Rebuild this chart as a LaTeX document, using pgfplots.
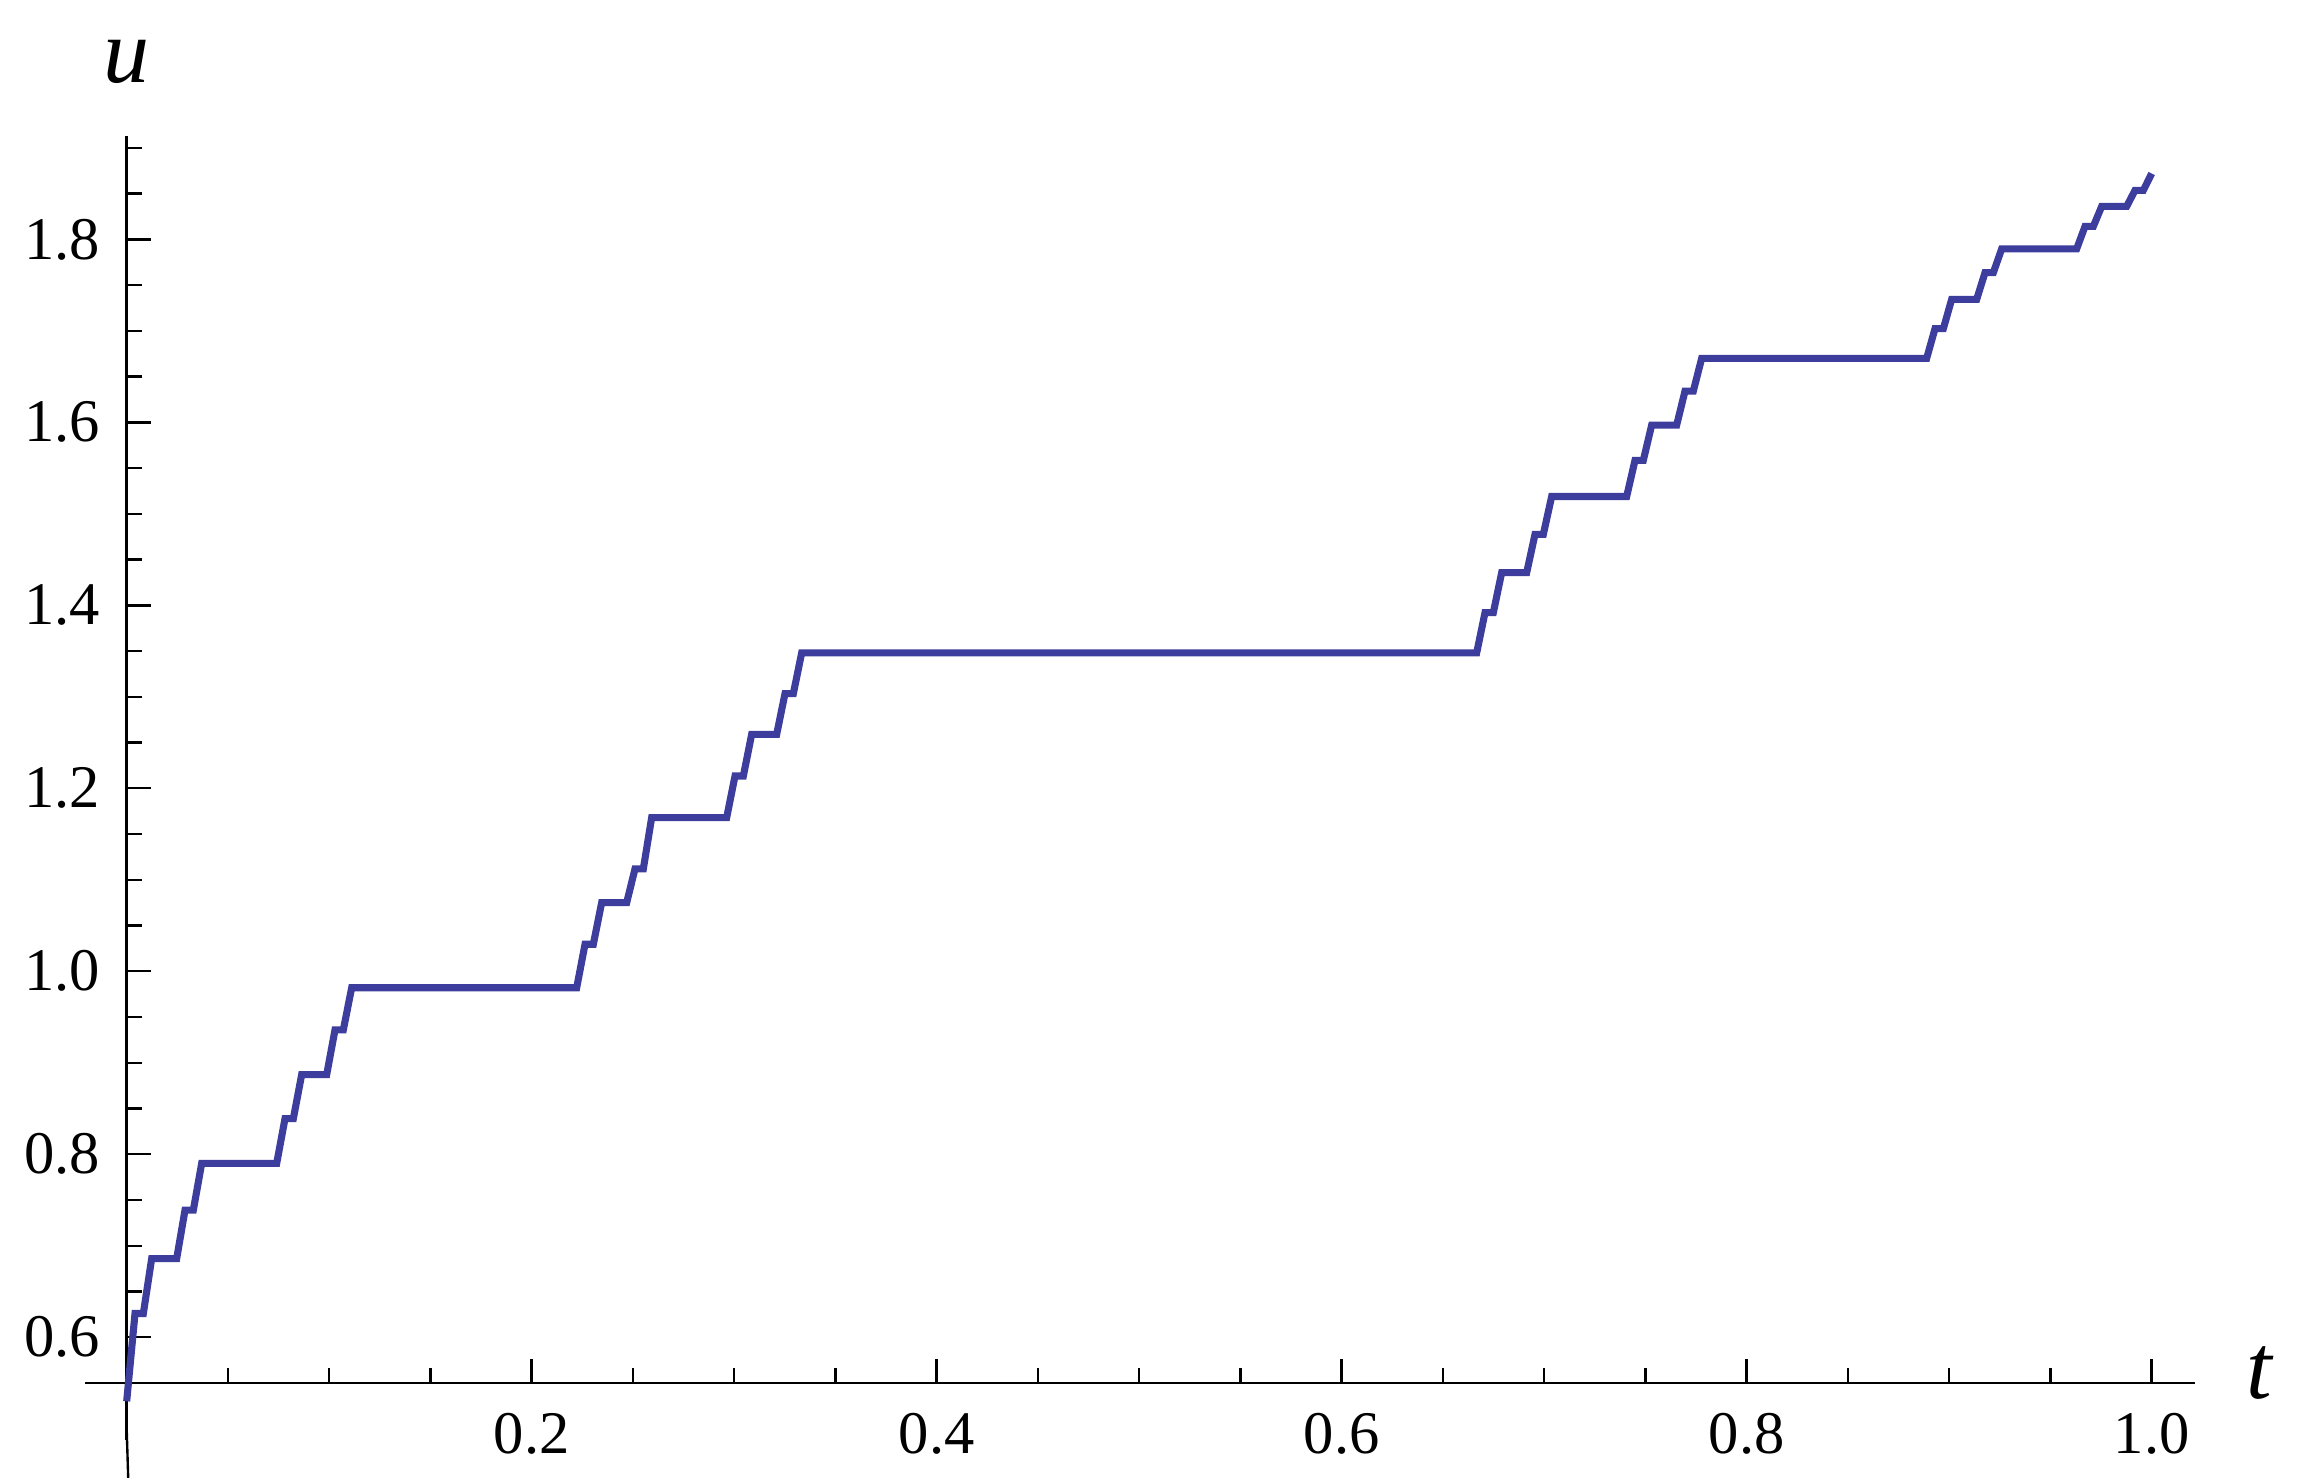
\documentclass[border=0pt]{standalone}
\usepackage{fontspec}
\setmainfont{Liberation Serif}
\usepackage{pgfplots}
\pgfplotsset{compat=1.18}
\definecolor{curve}{HTML}{3D3D9E}

\begin{document}
\fontsize{11.5}{13}\selectfont
\begin{tikzpicture}
\useasboundingbox (0,0) rectangle (436.81pt,280.82pt);
\begin{axis}[at={(24.07pt,18.05pt)}, anchor=south west, scale only axis,
    width=392.98pt, height=236.93pt,
    xmin=0, xmax=1.0214, ymin=0.55, ymax=1.913,
    axis lines=left, axis line style={-, line width=0.45pt}, clip=false,
    tick align=inside, major tick length=4.6pt, minor tick length=2.85pt,
    every tick/.style={black, line width=0.45pt},
    xtick={0.2,0.4,0.6,0.8,1.0}, ytick={0.6,0.8,1.0,1.2,1.4,1.6,1.8},
    minor xtick={0.05,0.10,0.15,0.25,0.30,0.35,0.45,0.50,0.55,0.65,0.70,0.75,0.85,0.90,0.95},
    minor ytick={0.65,0.70,0.75,0.85,0.90,0.95,1.05,1.10,1.15,1.25,1.30,1.35,1.45,1.50,1.55,1.65,1.70,1.75,1.85,1.90},
    /pgf/number format/assume math mode=true,
    xticklabel style={/pgf/number format/fixed, /pgf/number format/fixed zerofill, /pgf/number format/precision=1, yshift=-1.7pt},
    yticklabel style={/pgf/number format/fixed, /pgf/number format/fixed zerofill, /pgf/number format/precision=1, xshift=-1pt},
    xlabel={\fontsize{17.5}{20}\selectfont\textit{t}},
    ylabel={\fontsize{17.5}{20}\selectfont\textit{u}},
    every axis x label/.style={at={(axis description cs:1,0)}, anchor=base west, xshift=5.7pt, yshift=-3pt},
    every axis y label/.style={at={(axis description cs:0,1)}, anchor=base, yshift=10.1pt},
  ]
  % axis pieces outside the plot box
  \draw[line width=0.45pt] (axis cs:-0.0204,0.55) -- (axis cs:0,0.55);
  \draw[line width=0.45pt] (axis cs:0,0.488) -- (axis cs:0,0.55);
  \draw[line width=0.45pt] (axis cs:0,0.5) -- ++(2.85pt,0);
  \addplot[curve, line width=1.35pt, line join=miter] coordinates {
    (0,0.53) (0.004115,0.626) (0.008230,0.626)
    (0.012346,0.686) (0.024691,0.686)
    (0.028807,0.739) (0.032922,0.739)
    (0.037037,0.790) (0.074074,0.790)
    (0.078189,0.839) (0.082305,0.839)
    (0.086420,0.887) (0.098765,0.887)
    (0.102881,0.936) (0.106996,0.936)
    (0.111111,0.982) (0.222222,0.982)
    (0.226337,1.0295) (0.230453,1.0295)
    (0.234568,1.075) (0.246914,1.075)
    (0.251029,1.112) (0.255144,1.112)
    (0.259259,1.168) (0.296296,1.168)
    (0.300412,1.2134) (0.304527,1.2134)
    (0.308642,1.259) (0.320988,1.259)
    (0.325103,1.3035) (0.329218,1.3035)
    (0.333333,1.348) (0.666667,1.348)
    (0.670782,1.392) (0.674897,1.392)
    (0.679012,1.4357) (0.691358,1.4357)
    (0.695473,1.4776) (0.699588,1.4776)
    (0.703704,1.519) (0.740741,1.519)
    (0.744856,1.5585) (0.748971,1.5585)
    (0.753086,1.597) (0.765432,1.597)
    (0.769547,1.6342) (0.773663,1.6342)
    (0.777778,1.670) (0.888889,1.670)
    (0.893004,1.7024) (0.897119,1.7024)
    (0.901235,1.7344) (0.913580,1.7344)
    (0.917695,1.7636) (0.921811,1.7636)
    (0.925926,1.7896) (0.962963,1.7896)
    (0.967078,1.8142) (0.971193,1.8142)
    (0.975309,1.836) (0.987654,1.836)
    (0.991770,1.8536) (0.995885,1.8536)
    (1,1.872)
  };
\end{axis}
\end{tikzpicture}
\end{document}
